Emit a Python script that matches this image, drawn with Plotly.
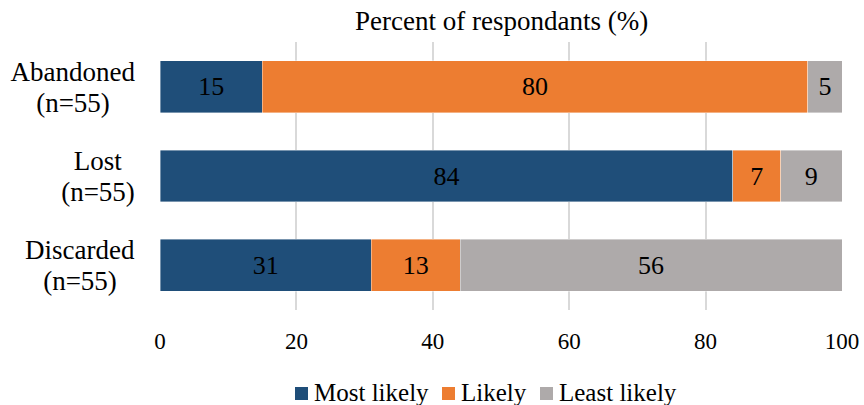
import plotly.graph_objects as go

# Response categories (bottom to top on the chart)
categories = ["Discarded", "Lost", "Abandoned"]
label_names = ["Discarded", "Lost", "Abandoned"]
label_counts = ["(n=55)", "(n=55)", "(n=55)"]

# Percent of respondents per likelihood level
most_likely = [31, 84, 15]
likely = [13, 7, 80]
least_likely = [56, 9, 5]

x_ticks = [0, 20, 40, 60, 80, 100]

series_names = ["Most likely", "Likely", "Least likely"]
series_values = [most_likely, likely, least_likely]
series_colors = ["#1F4E79", "#ED7D31", "#AEAAAA"]

FONT = "Liberation Serif, Times New Roman, serif"

# Figure geometry (pixels)
W, H = 864, 405
M_L, M_R, M_T, M_B = 160, 22, 42, 95
PLOT_W = W - M_L - M_R
PLOT_H = H - M_T - M_B


def px_x(px):
    """Pixel column -> paper x."""
    return (px - M_L) / PLOT_W


def px_y(py):
    """Pixel row (from top) -> paper y."""
    return (H - M_B - py) / PLOT_H


fig = go.Figure()
for name, vals, color in zip(series_names, series_values, series_colors):
    fig.add_trace(go.Bar(
        y=categories,
        x=vals,
        name=name,
        orientation="h",
        marker=dict(color=color, line=dict(color="rgba(255,255,255,0.5)", width=0.8)),
        text=[str(v) for v in vals],
        textposition="inside",
        insidetextanchor="middle",
        textangle=0,
        textfont=dict(family=FONT, size=26, color="black"),
        width=0.58,
        showlegend=False,
    ))

# Two-line category labels: both lines centred within a box whose
# right edge sits just left of the plot
label_box_w = {"Discarded": 112, "Lost": 76, "Abandoned": 126}
for cat, name, count in zip(categories, label_names, label_counts):
    for txt, shift in ((name, 15), (count, -16)):
        fig.add_annotation(
            x=0, xref="paper", xshift=-23, xanchor="right",
            y=cat, yref="y", yanchor="middle", yshift=shift,
            text=txt, showarrow=False, align="center",
            width=label_box_w[cat], borderpad=0,
            font=dict(family=FONT, size=27, color="black"),
        )

fig.add_annotation(
    x=0.5, xref="paper", y=1, yref="paper", yanchor="bottom", yshift=4,
    text="Percent of respondants (%)", showarrow=False,
    font=dict(family=FONT, size=27, color="black"),
)

# Legend row: coloured key squares followed by the series names
key_left = [295, 442, 540]
KEY = 13
LEG_Y = 392
KEY_TOP = 387
for name, color, kx in zip(series_names, series_colors, key_left):
    fig.add_shape(
        type="rect", xref="paper", yref="paper",
        x0=px_x(kx), x1=px_x(kx + KEY),
        y0=px_y(KEY_TOP + KEY), y1=px_y(KEY_TOP),
        fillcolor=color, line=dict(width=0),
    )
    fig.add_annotation(
        x=px_x(kx + KEY + 5), xref="paper", xanchor="left",
        y=px_y(LEG_Y), yref="paper", yanchor="middle",
        text=name, showarrow=False, borderpad=0,
        font=dict(family=FONT, size=25, color="black"),
    )

fig.update_layout(
    width=W, height=H,
    barmode="stack",
    plot_bgcolor="white", paper_bgcolor="white",
    margin=dict(l=M_L, r=M_R, t=M_T, b=M_B),
    font=dict(family=FONT, size=23, color="black"),
    showlegend=False,
    xaxis=dict(
        range=[0, 100], tickvals=x_ticks, showgrid=True,
        gridcolor="#D9D9D9", gridwidth=2, zeroline=False, showline=False,
        ticks="", ticklabelstandoff=15, automargin=False,
        tickfont=dict(family=FONT, size=23, color="black"),
    ),
    yaxis=dict(
        showticklabels=False, showgrid=False, zeroline=False, showline=False,
        automargin=False,
        categoryorder="array", categoryarray=categories,
    ),
)

fig.write_html("out.html")
